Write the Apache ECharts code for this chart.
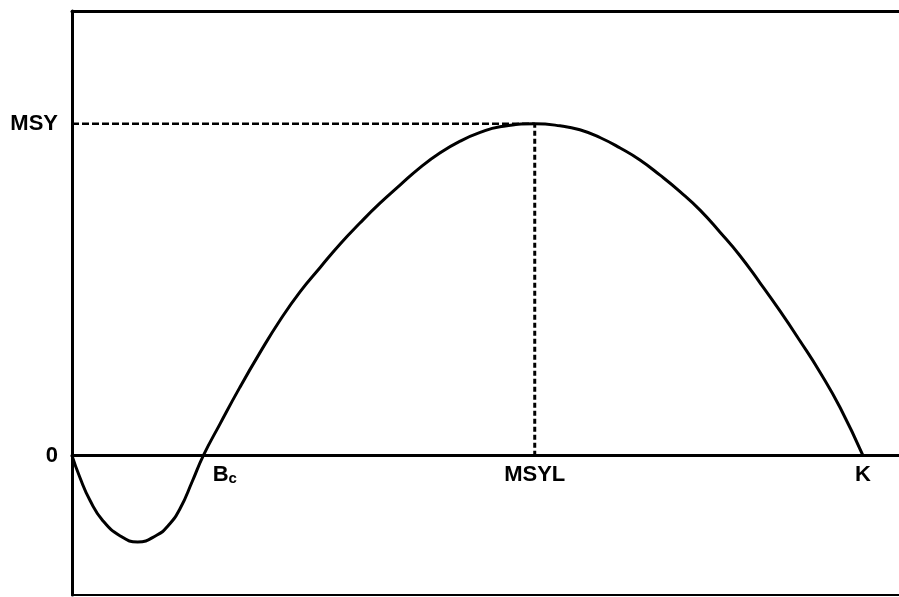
<!DOCTYPE html>
<html>
<head>
<meta charset="utf-8">
<script src="https://cdn.jsdelivr.net/npm/echarts@6/dist/echarts.min.js"></script>
<style>
  html, body { margin: 0; padding: 0; background: #fff; }
  #chart { width: 899px; height: 597px; }
</style>
</head>
<body>
<div id="chart"></div>
<script>
// stock size as fraction of K, surplus production as fraction of MSY
const stock = [0, 0.010, 0.023, 0.039, 0.061, 0.083, 0.107, 0.122, 0.137, 0.152, 0.166,
  0.187, 0.212, 0.238, 0.263, 0.288, 0.314, 0.339, 0.364, 0.389, 0.415,
  0.440, 0.465, 0.491, 0.516, 0.541, 0.585, 0.617, 0.642, 0.668, 0.693,
  0.718, 0.743, 0.769, 0.794, 0.819, 0.844, 0.870, 0.895, 0.920, 0.946,
  0.971, 1.0]
const production = [0, -0.066, -0.136, -0.196, -0.242, -0.260, -0.240, -0.210, -0.158, -0.078, 0,
  0.095, 0.205, 0.312, 0.408, 0.493, 0.568, 0.638, 0.701, 0.760, 0.816,
  0.868, 0.912, 0.948, 0.974, 0.991, 1.0, 0.994, 0.982, 0.958, 0.927,
  0.891, 0.846, 0.795, 0.740, 0.674, 0.604, 0.520, 0.436, 0.347, 0.250,
  0.145, 0]

// reference points and tick labels
const Bc = 0.166
const MSYL = 0.585
const K = 1.0
const MSY = 1.0
const xTicks = [Bc, MSYL, K]
const xTickLabels = ['{b|B}{s|c}', 'MSYL', 'K']
const yTicks = [0, MSY]
const yTickLabels = ['0', 'MSY']

const xMin = 0, xMax = 1.0455
const yMin = -0.42, yMax = 1.34

const lbl = { fontFamily: 'Liberation Sans', fontWeight: 'bold', fontSize: 22, color: '#000' }

const chart = echarts.init(document.getElementById('chart'))
chart.setOption({
  animation: false,
  grid: { left: 72, right: 0, top: 11, bottom: 2, outerBoundsMode: 'none', containLabel: false },
  xAxis: [{
    type: 'value', min: xMin, max: xMax, position: 'bottom',
    splitLine: { show: false }, axisTick: { show: false }, axisLabel: { show: false },
    axisLine: { onZero: true, lineStyle: { color: '#000', width: 3 } }
  }, {
    type: 'value', min: xMin, max: xMax, position: 'top',
    splitLine: { show: false }, axisTick: { show: false }, axisLabel: { show: false },
    axisLine: { onZero: false, lineStyle: { color: '#000', width: 3 } }
  }, {
    type: 'value', min: xMin, max: xMax, position: 'bottom',
    splitLine: { show: false }, axisTick: { show: false }, axisLabel: { show: false },
    axisLine: { onZero: false, lineStyle: { color: '#000', width: 2 } }
  }],
  yAxis: {
    type: 'value', min: yMin, max: yMax,
    splitLine: { show: false },
    axisTick: { show: false },
    axisLine: { onZero: false, lineStyle: { color: '#000', width: 3 } },
    axisLabel: {
      customValues: yTicks,
      margin: 14,
      ...lbl,
      formatter: v => yTickLabels[yTicks.indexOf(v)]
    }
  },
  series: [{
    name: 'production',
    type: 'line',
    data: stock.map((x, i) => [x, production[i]]),
    smooth: 0.5,
    showSymbol: false,
    lineStyle: { color: '#000', width: 3 }
  }, {
    name: 'msy',
    type: 'line',
    data: [[0, MSY], [MSYL, MSY]],
    showSymbol: false,
    lineStyle: { color: '#000', width: 2.5, type: [7, 3] }
  }, {
    name: 'msyl',
    type: 'line',
    data: [[MSYL, 0], [MSYL, MSY]],
    showSymbol: false,
    lineStyle: { color: '#000', width: 3, type: [5, 3] }
  }, {
    name: 'xLabels',
    type: 'scatter',
    data: xTicks.map(x => [x, 0]),
    symbolSize: 0,
    silent: true,
    itemStyle: { opacity: 1 },
    label: {
      show: true,
      position: 'bottom',
      distance: 8,
      ...lbl,
      formatter: p => xTickLabels[p.dataIndex],
      rich: {
        b: { ...lbl, padding: [0, 0, 0, 43] },
        s: { ...lbl, fontSize: 15, padding: [8, 0, 0, 0] }
      }
    }
  }]
})
</script>
</body>
</html>
